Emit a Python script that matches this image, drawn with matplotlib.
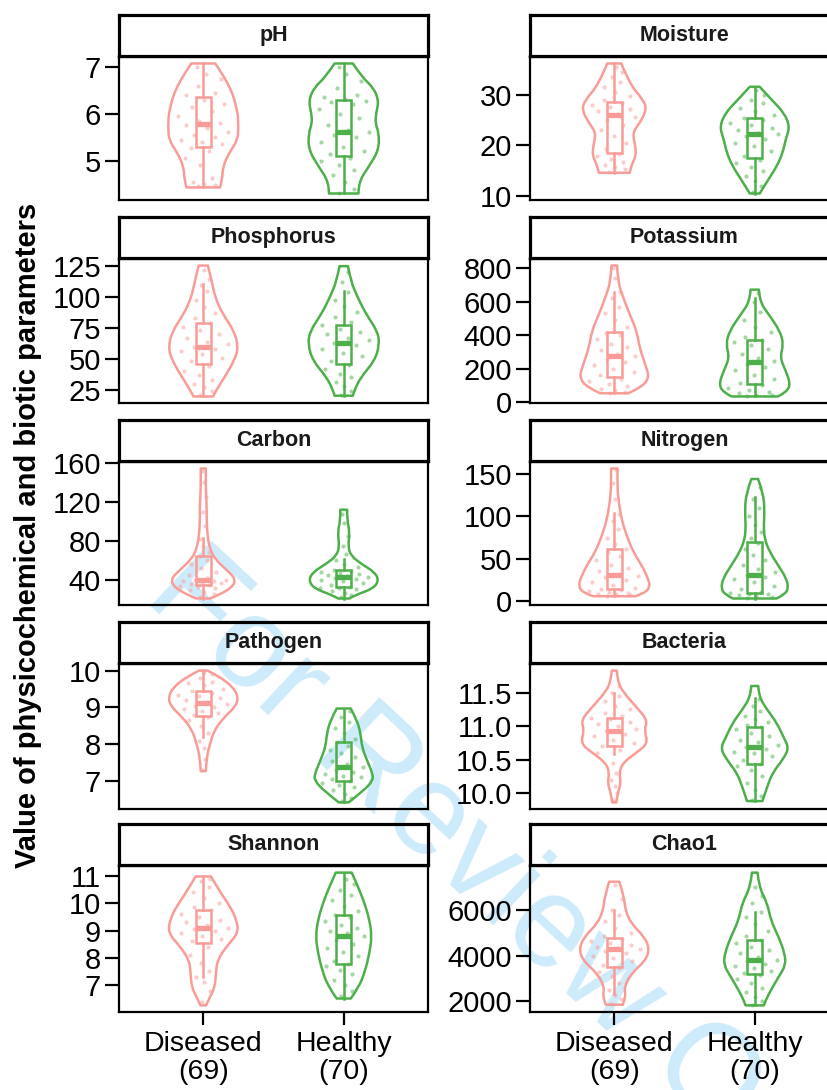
import matplotlib
matplotlib.use("Agg")
import matplotlib.pyplot as plt
import numpy as np
from matplotlib.patches import Rectangle, PathPatch
from matplotlib.path import Path

plt.rcParams['font.family'] = ['Liberation Sans', 'DejaVu Sans']

# --- data -----------------------------------------------------------------
groups = ['Diseased', 'Healthy']
group_n = [69, 70]
panel_names = ['pH', 'Moisture', 'Phosphorus', 'Potassium', 'Carbon',
               'Nitrogen', 'Pathogen', 'Bacteria', 'Shannon', 'Chao1']

# y ticks per panel
ph_ticks = [5, 6, 7]
moisture_ticks = [10, 20, 30]
phosphorus_ticks = [25, 50, 75, 100, 125]
potassium_ticks = [0, 200, 400, 600, 800]
carbon_ticks = [40, 80, 120, 160]
nitrogen_ticks = [0, 50, 100, 150]
pathogen_ticks = [7, 8, 9, 10]
bacteria_ticks = [10.0, 10.5, 11.0, 11.5]
shannon_ticks = [7, 8, 9, 10, 11]
chao1_ticks = [2000, 4000, 6000]

# violin outlines: (value, relative density width), top to bottom, [Diseased, Healthy]
ph_violin = [
    [(7.07, .085), (6.64, .185), (6.07, .245), (5.72, .25), (5.44, .245), (5.17, .185),
     (4.88, .14), (4.60, .135), (4.43, .12)],
    [(7.07, .065), (6.78, .13), (6.56, .21), (6.28, .25), (6.0, .23), (5.8, .225),
     (5.59, .25), (5.23, .25), (4.88, .18), (4.54, .105), (4.30, .105)]]
moisture_violin = [
    [(36.2, .05), (32.1, .11), (28.9, .21), (27.0, .23), (24.4, .18), (22.5, .13),
     (19.9, .15), (17.9, .155), (16.0, .12), (14.6, .11)],
    [(31.6, .035), (28.9, .125), (26.4, .21), (23.7, .25), (21.2, .22), (18.6, .2),
     (16.0, .16), (13.4, .1), (10.5, .035)]]
phosphorus_violin = [
    [(125.5, .033), (112.9, .06), (99.5, .085), (86, .14), (72.6, .22), (59.1, .25),
     (48.4, .22), (35, .15), (24.2, .09), (19.6, .07)],
    [(125, .03), (112.9, .05), (99.5, .1), (86, .16), (72.6, .24), (61.8, .255),
     (48.4, .22), (35, .12), (24.2, .075), (20.2, .065)]]
potassium_violin = [
    [(816, .02), (721, .025), (622, .065), (523, .11), (425, .16), (326, .18),
     (227, .22), (148, .25), (89, .195), (53, .1)],
    [(672, .03), (602, .035), (523, .1), (425, .18), (346, .205), (267, .18),
     (188, .22), (109, .255), (59, .225), (34, .165)]]
carbon_violin = [
    [(154.3, .018), (135.7, .017), (118.8, .024), (101.9, .024), (85, .03), (71.4, .048),
     (61.3, .083), (50.2, .165), (41, .23), (32.6, .21), (24, .107), (20.7, .05)],
    [(112, .024), (101.9, .024), (88.3, .043), (74.8, .031), (64.7, .05), (56.2, .126),
     (47.8, .22), (39.3, .25), (30.9, .21), (24.1, .08), (20.7, .04)]]
nitrogen_violin = [
    [(156.6, .023), (135.3, .021), (116, .033), (96.6, .052), (77.3, .088), (58, .135),
     (42.5, .195), (27, .24), (17.4, .255), (9.7, .22), (5.8, .15)],
    [(144.2, .024), (127.6, .06), (108.2, .07), (88.9, .064), (73.4, .07), (58, .107),
     (42.5, .166), (27, .225), (15.5, .24), (7.7, .213), (3.1, .155)]]
pathogen_violin = [
    [(10.0, .03), (9.84, .114), (9.56, .21), (9.29, .25), (9.02, .23), (8.74, .15),
     (8.38, .078), (8.01, .048), (7.65, .024), (7.27, .018)],
    [(8.97, .05), (8.65, .095), (8.29, .12), (7.92, .13), (7.56, .166), (7.19, .207),
     (7.01, .207), (6.74, .142), (6.42, .035)]]
bacteria_violin = [
    [(11.83, .018), (11.66, .024), (11.49, .07), (11.29, .155), (11.09, .237), (10.94, .213),
     (10.74, .24), (10.6, .155), (10.45, .06), (10.3, .035), (10.15, .048), (10.0, .024),
     (9.86, .015)],
    [(11.6, .025), (11.44, .03), (11.24, .09), (11.05, .157), (10.84, .204), (10.67, .244),
     (10.5, .2), (10.3, .126), (10.1, .09), (9.95, .066), (9.88, .055)]]
shannon_violin = [
    [(10.98, .055), (10.51, .107), (9.89, .19), (9.4, .237), (8.91, .25), (8.42, .166),
     (7.92, .1), (7.43, .09), (6.94, .083), (6.57, .048), (6.26, .02)],
    [(11.12, .057), (10.63, .1), (10.02, .147), (9.4, .183), (8.78, .2), (8.17, .183),
     (7.55, .154), (6.94, .11), (6.51, .05)]]
chao1_violin = [
    [(7245, .036), (6586, .07), (6000, .078), (5414, .12), (4828, .214), (4315, .25),
     (3802, .225), (3217, .12), (2631, .07), (2191, .083), (1854, .06)],
    [(7641, .02), (7026, .03), (6293, .09), (5561, .114), (4828, .17), (4096, .214),
     (3583, .22), (3070, .17), (2484, .114), (2045, .078), (1825, .065)]]

# box stats: [lower whisker, Q1, median, Q3, upper whisker]
ph_box = [[4.43, 5.30, 5.78, 6.35, 7.07], [4.30, 5.09, 5.60, 6.30, 7.07]]
moisture_box = [[14.6, 18.6, 26.1, 28.6, 36.2], [10.5, 17.6, 22.3, 25.5, 31.6]]
phosphorus_box = [[19.6, 45.7, 60, 79.3, 110.2], [20.2, 46.2, 63.2, 77.4, 104.8]]
potassium_box = [[53, 148, 277, 419, 658], [34, 109, 237, 371, 622]]
carbon_box = [[20.7, 34.9, 39.3, 64.7, 83.3], [20.7, 32.6, 42.7, 50.2, 61.3]]
nitrogen_box = [[5.8, 14.3, 30.9, 61.1, 103.6], [3.1, 9.7, 30.9, 69.6, 122.9]]
pathogen_box = [[8.2, 8.76, 9.11, 9.45, 9.97], [6.42, 7.01, 7.39, 8.06, 8.92]]
bacteria_box = [[10.59, 10.7, 10.93, 11.12, 11.49], [9.88, 10.44, 10.69, 10.98, 11.42]]
shannon_box = [[7.31, 8.54, 9.09, 9.77, 10.98], [6.51, 7.78, 8.81, 9.58, 11.12]]
chao1_box = [[2337, 3510, 4315, 4784, 6000], [1825, 3187, 3832, 4711, 5927]]

# sample points (approximate)
ph_points = [
    [4.45, 4.48, 4.5, 4.55, 4.62, 4.9, 5.05, 5.2, 5.28, 5.35, 5.4, 5.45, 5.5, 5.55, 5.6,
     5.7, 5.75, 5.8, 5.85, 5.95, 6.05, 6.15, 6.2, 6.3, 6.4, 6.45, 6.6, 6.75, 6.85, 7.0],
    [4.32, 4.4, 4.55, 4.7, 4.8, 4.9, 5.0, 5.05, 5.15, 5.2, 5.3, 5.4, 5.5, 5.55, 5.6,
     5.65, 5.75, 5.9, 6.0, 6.1, 6.2, 6.25, 6.28, 6.32, 6.35, 6.4, 6.55, 6.7, 6.85, 7.0]]
moisture_points = [
    [14.8, 15.3, 15.8, 16.2, 16.8, 17.3, 17.9, 18.4, 19.2, 20.5, 21.8, 23.0, 24.1, 25.0,
     25.6, 26.3, 26.8, 27.2, 27.6, 28.0, 28.4, 29.0, 29.8, 30.5, 31.5, 32.5, 33.5, 34.5, 35.5],
    [10.8, 12.0, 13.0, 14.0, 15.0, 15.8, 16.5, 17.2, 18.0, 19.0, 19.8, 20.5, 21.2, 21.8,
     22.2, 22.5, 23.0, 23.5, 24.0, 24.5, 25.0, 25.4, 26.0, 26.8, 27.5, 28.3, 29.0, 30.0, 31.0]]
phosphorus_points = [
    [21, 24, 27, 30, 33, 37, 40, 44, 48, 51, 54, 56, 58, 60, 62, 64, 67, 70, 73, 76, 79,
     83, 87, 92, 98, 105, 110, 115, 122],
    [21, 24, 28, 31, 35, 38, 42, 45, 48, 52, 55, 58, 61, 63, 65, 67, 70, 72, 74, 77, 80,
     84, 88, 93, 98, 104, 112, 120]]
potassium_points = [
    [55, 60, 70, 80, 95, 110, 125, 140, 160, 180, 200, 220, 240, 260, 275, 290, 310, 330,
     350, 375, 400, 415, 450, 490, 530, 570, 620, 660, 740, 800],
    [36, 40, 45, 52, 60, 70, 85, 100, 115, 140, 165, 190, 210, 230, 245, 265, 290, 315,
     340, 360, 370, 390, 420, 450, 490, 540, 600, 650]]
carbon_points = [
    [22, 25, 27, 29, 31, 33, 34, 35, 36, 37, 38, 38.5, 39, 39.5, 40, 42, 45, 48, 52, 56,
     60, 64, 68, 75, 82, 95, 110, 125, 140, 152],
    [22, 24, 26, 28, 30, 31, 32, 33, 35, 37, 39, 40, 41, 42, 43, 44, 45, 46, 47, 48, 49,
     50, 53, 56, 60, 66, 75, 85, 98, 108]]
nitrogen_points = [
    [6, 7, 8, 9, 10, 11, 12, 13, 14, 16, 19, 22, 25, 28, 30, 32, 35, 39, 43, 48, 53, 58,
     61, 67, 75, 85, 95, 103, 120, 140, 155],
    [4, 5, 6, 7, 8, 9, 9.5, 11, 14, 18, 22, 26, 29, 31, 34, 38, 43, 48, 55, 62, 69, 75,
     82, 90, 100, 110, 120, 135]]
pathogen_points = [
    [7.3, 7.6, 7.9, 8.1, 8.3, 8.5, 8.65, 8.75, 8.8, 8.85, 8.9, 8.95, 9.0, 9.05, 9.1, 9.15,
     9.2, 9.25, 9.3, 9.35, 9.4, 9.45, 9.5, 9.6, 9.65, 9.7, 9.8, 9.9, 9.97],
    [6.45, 6.55, 6.65, 6.75, 6.85, 6.9, 6.95, 7.0, 7.05, 7.1, 7.15, 7.2, 7.25, 7.3, 7.38,
     7.45, 7.55, 7.65, 7.75, 7.85, 7.95, 8.05, 8.15, 8.3, 8.45, 8.6, 8.75, 8.9]]
bacteria_points = [
    [9.9, 10.0, 10.1, 10.2, 10.3, 10.45, 10.6, 10.65, 10.7, 10.75, 10.8, 10.85, 10.88,
     10.92, 10.95, 11.0, 11.03, 11.06, 11.1, 11.12, 11.15, 11.2, 11.25, 11.3, 11.38,
     11.45, 11.5, 11.6],
    [9.9, 9.95, 10.05, 10.15, 10.25, 10.35, 10.4, 10.44, 10.5, 10.55, 10.6, 10.62, 10.66,
     10.69, 10.72, 10.76, 10.8, 10.85, 10.9, 10.95, 10.98, 11.02, 11.06, 11.1, 11.15,
     11.22, 11.3, 11.4]]
shannon_points = [
    [6.4, 6.8, 7.1, 7.3, 7.5, 7.8, 8.1, 8.4, 8.6, 8.7, 8.8, 8.9, 9.0, 9.05, 9.1, 9.2, 9.3,
     9.4, 9.5, 9.6, 9.75, 9.85, 10.0, 10.2, 10.4, 10.6, 10.8, 10.9],
    [6.6, 6.8, 7.0, 7.2, 7.4, 7.55, 7.7, 7.78, 7.9, 8.05, 8.2, 8.35, 8.5, 8.65, 8.8, 8.9,
     9.0, 9.1, 9.2, 9.35, 9.5, 9.58, 9.7, 9.9, 10.1, 10.3, 10.5, 10.7, 10.9]]
chao1_points = [
    [1900, 2100, 2300, 2500, 2800, 3100, 3300, 3450, 3600, 3750, 3900, 4000, 4100, 4200,
     4300, 4350, 4400, 4450, 4550, 4650, 4750, 4850, 5000, 5200, 5500, 5800, 6000, 6500, 7100],
    [1850, 2000, 2200, 2400, 2600, 2800, 3000, 3150, 3250, 3350, 3450, 3550, 3650, 3750,
     3830, 3950, 4100, 4250, 4400, 4550, 4700, 4850, 5100, 5400, 5700, 5900, 6300, 6600, 7000]]

panels = [
    ('pH', ph_ticks, ph_violin, ph_box, ph_points),
    ('Moisture', moisture_ticks, moisture_violin, moisture_box, moisture_points),
    ('Phosphorus', phosphorus_ticks, phosphorus_violin, phosphorus_box, phosphorus_points),
    ('Potassium', potassium_ticks, potassium_violin, potassium_box, potassium_points),
    ('Carbon', carbon_ticks, carbon_violin, carbon_box, carbon_points),
    ('Nitrogen', nitrogen_ticks, nitrogen_violin, nitrogen_box, nitrogen_points),
    ('Pathogen', pathogen_ticks, pathogen_violin, pathogen_box, pathogen_points),
    ('Bacteria', bacteria_ticks, bacteria_violin, bacteria_box, bacteria_points),
    ('Shannon', shannon_ticks, shannon_violin, shannon_box, shannon_points),
    ('Chao1', chao1_ticks, chao1_violin, chao1_box, chao1_points),
]

# --- styling / layout -------------------------------------------------------
line_colors = ['#F99C97', '#4DAF4A']
W, H = 827, 1090
col_x = [119, 530]
panel_w = 309
rows = [(57, 200), (259, 403), (462, 605), (664, 809), (866, 1012)]
strip_h = 41


def rect(x0, y_top, w, h):
    return [x0 / W, 1 - (y_top + h) / H, w / W, h / H]


def side_curve(pts):
    # quadratic bezier through the outline points (smooth drawing)
    verts, codes = [], []
    for j in range(1, len(pts) - 1):
        if j == len(pts) - 2:
            end = pts[-1]
        else:
            end = ((pts[j][0] + pts[j + 1][0]) / 2, (pts[j][1] + pts[j + 1][1]) / 2)
        verts += [pts[j], end]
        codes += [Path.CURVE3, Path.CURVE3]
    if len(pts) == 2:
        verts, codes = [pts[1]], [Path.LINETO]
    return verts, codes


def draw_group(ax, xc, outline, box, pts, color):
    lev = np.array([p[0] for p in outline])
    wid = np.array([p[1] for p in outline])
    left = list(zip(xc - wid, lev))
    right = list(zip(xc + wid, lev))[::-1]
    v1, c1 = side_curve(left)
    v2, c2 = side_curve(right)
    verts = [left[0]] + v1 + [right[0]] + v2 + [left[0]]
    codes = [Path.MOVETO] + c1 + [Path.LINETO] + c2 + [Path.CLOSEPOLY]
    ax.add_patch(PathPatch(Path(verts, codes), facecolor='none', edgecolor=color,
                           lw=1.8, joinstyle='round', zorder=3))
    # jittered points kept inside the violin
    pts = np.array(pts)
    k = np.arange(len(pts))
    u = ((k * 0.618034 + 0.3) % 1.0) * 2 - 1
    w_at = np.interp(pts, lev[::-1], wid[::-1])
    ax.scatter(xc + u * w_at * 0.8, pts, s=9, color=color, alpha=0.5,
               lw=0, zorder=2)
    lo, q1, med, q3, hi = box
    bw = 0.055
    ax.plot([xc, xc], [lo, q1], color=color, lw=1.8, zorder=4)
    ax.plot([xc, xc], [q3, hi], color=color, lw=1.8, zorder=4)
    ax.add_patch(Rectangle((xc - bw, q1), 2 * bw, q3 - q1, fill=False,
                           ec=color, lw=1.8, zorder=4))
    ax.plot([xc - bw, xc + bw], [med, med], color=color, lw=3.8,
            solid_capstyle='butt', zorder=5)


fig = plt.figure(figsize=(8.27, 10.9), dpi=100)

for i, (name, ticks, violin, box, points) in enumerate(panels):
    r, c = divmod(i, 2)
    top, bot = rows[r]
    ax = fig.add_axes(rect(col_x[c], top, panel_w, bot - top))
    ax.patch.set_alpha(0)
    for g in range(2):
        draw_group(ax, g + 1, violin[g], box[g], points[g], line_colors[g])
    allv = [p[0] for v in violin for p in v]
    lo, hi = min(allv), max(allv)
    pad = 0.05 * (hi - lo)
    ax.set_ylim(lo - pad, hi + pad)
    ax.set_xlim(0.4, 2.6)
    ax.set_yticks(ticks)
    if name == 'Bacteria':
        ax.set_yticklabels([f'{t:.1f}' for t in ticks])
    for s in ax.spines.values():
        s.set_linewidth(1.6)
    ax.tick_params(axis='y', length=10, width=1.6, labelsize=21, pad=3)
    if r == 4:
        ax.set_xticks([1, 2])
        ax.set_xticklabels([f'{g}\n({n})' for g, n in zip(groups, group_n)],
                           linespacing=1.1)
        ax.tick_params(axis='x', length=9, width=1.6, labelsize=20.5, pad=5)
    else:
        ax.set_xticks([])

    sax = fig.add_axes(rect(col_x[c], top - strip_h - 1, panel_w, strip_h))
    sax.set_xticks([])
    sax.set_yticks([])
    sax.patch.set_alpha(0)
    for s in sax.spines.values():
        s.set_linewidth(2.3)
    sax.text(0.5, 0.5, name, transform=sax.transAxes, ha='center',
             va='center', fontsize=15.5, fontweight='bold', color='#1a1a1a')

fig.text(28 / W, 1 - 535 / H, 'Value of physicochemical and biotic parameters',
         rotation=90, ha='center', va='center', fontsize=21, fontweight='bold')

# review watermark
fig.text(142 / W, 1 - 598 / H, 'For Review Only', rotation=-43,
         rotation_mode='anchor', ha='left', va='baseline', fontsize=93,
         color='#cdebfb', zorder=-5)

fig.savefig('out.png', dpi=100)
